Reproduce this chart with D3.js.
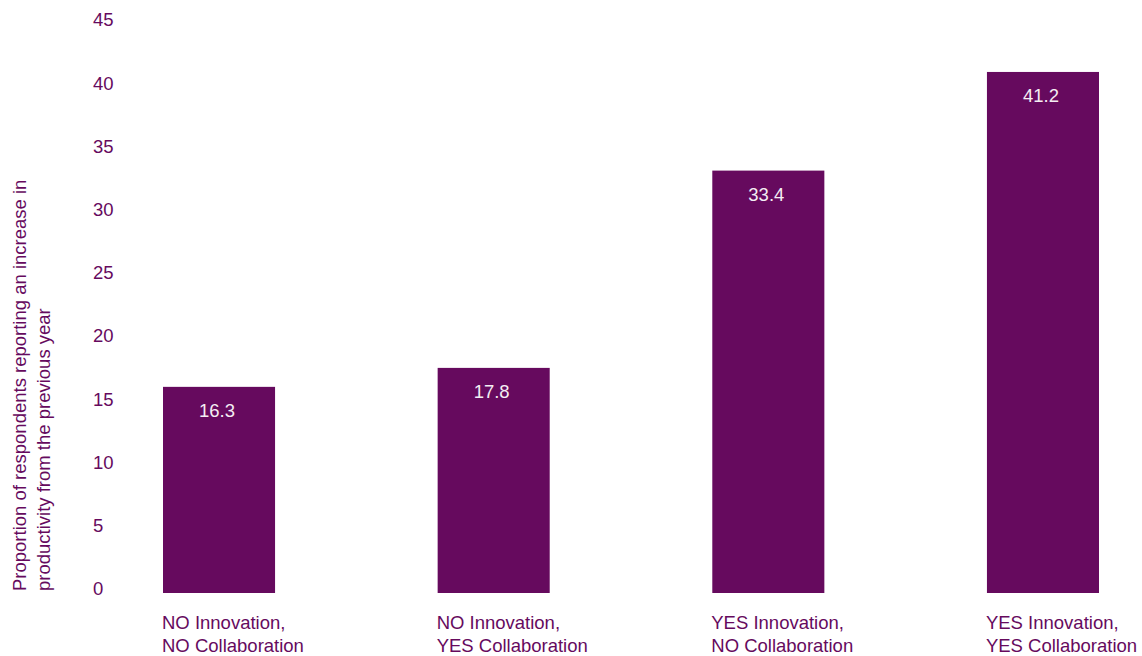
<!DOCTYPE html>
<html>
<head>
<meta charset="utf-8">
<script src="https://cdn.jsdelivr.net/npm/d3@7"></script>
<style>
  html, body { margin: 0; padding: 0; background: #fff; }
  svg { display: block; font-family: Helvetica, Arial, "Liberation Sans", sans-serif; }
</style>
</head>
<body>
<svg id="chart" width="1142" height="656"></svg>
<script>
// categories shown under the bars (two lines each)
const categories = [
  ["NO Innovation,", "NO Collaboration"],
  ["NO Innovation,", "YES Collaboration"],
  ["YES Innovation,", "NO Collaboration"],
  ["YES Innovation,", "YES Collaboration"]
];
const values = [16.3, 17.8, 33.4, 41.2];
const yTicks = [0, 5, 10, 15, 20, 25, 30, 35, 40, 45];
const yTitle = ["Proportion of respondents reporting an increase in", "productivity from the previous year"];

const purple = "#660a5e";
const fontSize = "18.5px";

const svg = d3.select("#chart");

const x = d3.scaleBand()
  .domain(d3.range(values.length))
  .range([163, 1099])
  .paddingInner(0.592)
  .paddingOuter(0);

const y = d3.scaleLinear()
  .domain([0, 45])
  .range([593, 23.9]);

// y axis: labels only, no line or ticks
const yAxis = svg.append("g")
  .attr("transform", "translate(93,0)")
  .call(d3.axisLeft(y).tickValues(yTicks).tickSize(0).tickPadding(0));
yAxis.select(".domain").remove();
yAxis.selectAll("text")
  .attr("text-anchor", "start")
  .attr("x", 0)
  .attr("dy", null)
  .attr("y", -3)
  .attr("dominant-baseline", "middle")
  .attr("fill", purple)
  .attr("font-size", fontSize)
  .attr("font-family", "Helvetica, Arial, 'Liberation Sans', sans-serif");

// rotated axis title
const title = svg.append("text")
  .attr("transform", "translate(26,591) rotate(-90)")
  .attr("fill", purple)
  .attr("font-size", fontSize);
title.selectAll("tspan")
  .data(yTitle)
  .join("tspan")
  .attr("x", 0)
  .attr("dy", (d, i) => i === 0 ? 0 : 23.5)
  .text(d => d);

// bars
svg.selectAll("rect.bar")
  .data(values)
  .join("rect")
  .attr("class", "bar")
  .attr("x", (d, i) => x(i))
  .attr("y", d => y(d))
  .attr("width", x.bandwidth())
  .attr("height", d => y(0) - y(d))
  .attr("fill", purple);

// value labels inside bars
svg.selectAll("text.value")
  .data(values)
  .join("text")
  .attr("class", "value")
  .attr("x", (d, i) => x(i) + x.bandwidth() / 2 - 2)
  .attr("y", d => y(d) + 30)
  .attr("text-anchor", "middle")
  .attr("fill", "#f4eef3")
  .attr("font-size", fontSize)
  .text(d => d.toFixed(1));

// category labels
const cat = svg.selectAll("text.cat")
  .data(categories)
  .join("text")
  .attr("class", "cat")
  .attr("fill", purple)
  .attr("font-size", fontSize);
cat.selectAll("tspan")
  .data((d, i) => d.map(line => ({ line, i })))
  .join("tspan")
  .attr("x", d => x(d.i) - 1)
  .attr("y", (d, j) => 629 + j * 23)
  .text(d => d.line);
</script>
</body>
</html>
